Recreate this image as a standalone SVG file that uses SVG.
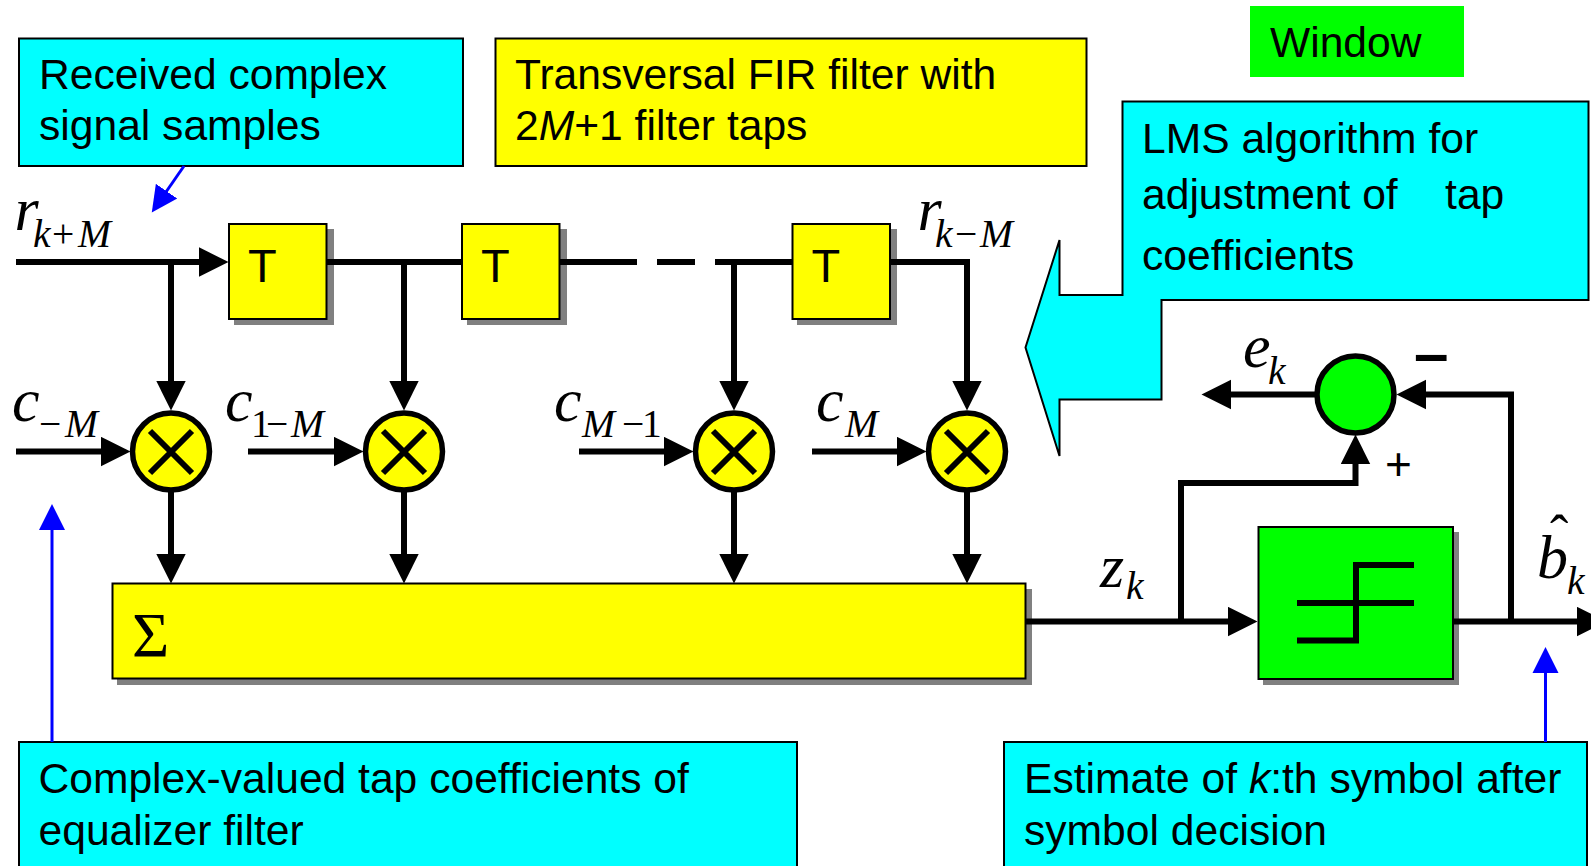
<svg xmlns="http://www.w3.org/2000/svg" width="1591" height="866" viewBox="0 0 1591 866">
<style>
.lbl{font-family:"Liberation Sans",Arial,sans-serif;font-size:42.6px;fill:#000}
.t{font-size:47px}
.m{font-family:"Liberation Serif","Times New Roman",serif;font-style:italic;fill:#000;font-size:62px}
.s{font-size:39.500px}
.u{font-style:normal}
.cy{fill:#00ffff;stroke:#000;stroke-width:2}
.ye{fill:#ff0;stroke:#000;stroke-width:2}
.gr{fill:#0f0;stroke:#000;stroke-width:2}
.sh{fill:#808080}
.mul{fill:#ff0;stroke:#000;stroke-width:5.5}
.x{stroke:#000;stroke-width:6;fill:none}
.c{stroke:#000;stroke-width:6;fill:none;marker-end:url(#ah)}
.p{stroke:#000;stroke-width:6;fill:none}
.bl{stroke:#00f;stroke-width:3;fill:none;marker-end:url(#bh)}
</style>
<defs>
<marker id="ah" markerUnits="userSpaceOnUse" markerWidth="31" markerHeight="31" refX="1" refY="15" orient="auto"><path d="M0 .3L29.5 15L0 29.7Z" fill="#000"/></marker>
<marker id="bh" markerUnits="userSpaceOnUse" markerWidth="28" markerHeight="28" refX="1" refY="14" orient="auto"><path d="M0 1L26 14L0 27Z" fill="#00f"/></marker>
</defs>
<rect width="1591" height="866" fill="#fff"/>
<g id="node-received"><rect class="cy" x="19" y="38.500" width="444" height="127.500"/><text class="lbl" x="39" y="89">Received complex</text><text class="lbl" x="39" y="140">signal samples</text></g>
<g id="node-transversal"><rect class="ye" x="495.500" y="38.500" width="591" height="127.500"/><text class="lbl" x="515" y="89">Transversal FIR filter with</text><text class="lbl" x="515" y="140">2<tspan font-style="italic">M</tspan>+1 filter taps</text></g>
<g id="node-window"><rect fill="#0f0" x="1250" y="6" width="214" height="71"/><text class="lbl" x="1270" y="57">Window</text></g>
<g id="node-lms"><path class="cy" d="M1122.500 101.500H1588.500V300H1161.500V399.500H1059.500V456L1025.500 347.500L1059.500 240V295H1122.500Z"/><text class="lbl" x="1142" y="153">LMS algorithm for</text><text class="lbl" x="1142" y="209" xml:space="preserve">adjustment of    tap</text><text class="lbl" x="1142" y="270">coefficients</text></g>
<g id="node-t1"><rect class="sh" x="234" y="229" width="100" height="96"/><rect class="ye" x="229" y="224" width="97.500" height="95"/><text class="lbl t" x="248" y="282">T</text></g>
<g id="node-t2"><rect class="sh" x="467" y="229" width="100" height="96"/><rect class="ye" x="462" y="224" width="97.500" height="95"/><text class="lbl t" x="481" y="282">T</text></g>
<g id="node-t3"><rect class="sh" x="797" y="229" width="100" height="96"/><rect class="ye" x="792.500" y="224" width="97.500" height="95"/><text class="lbl t" x="811.500" y="282">T</text></g>
<g id="node-mul1"><circle class="mul" cx="171" cy="451.500" r="38.500"/><path class="x" d="M150 431L192 473M192 431L150 473"/></g>
<g id="node-mul2"><circle class="mul" cx="404" cy="451.500" r="38.500"/><path class="x" d="M383 431L425 473M425 431L383 473"/></g>
<g id="node-mul3"><circle class="mul" cx="734" cy="451.500" r="38.500"/><path class="x" d="M713 431L755 473M755 431L713 473"/></g>
<g id="node-mul4"><circle class="mul" cx="967" cy="451.500" r="38.500"/><path class="x" d="M946 431L988 473M988 431L946 473"/></g>
<g id="node-sum"><rect class="sh" x="117" y="589" width="915" height="96"/><rect class="ye" x="112.500" y="583.500" width="913" height="95"/><text x="132" y="657" font-family="'Liberation Serif',serif" font-size="64">Σ</text></g>
<g id="node-decision"><rect class="sh" x="1263" y="532" width="196" height="153"/><rect class="gr" x="1258.500" y="527" width="194.500" height="152"/><path class="x" d="M1297 603H1414M1414 565H1356V640.500H1297"/></g>
<g id="node-err"><circle fill="#0f0" stroke="#000" stroke-width="5.500" cx="1355.500" cy="394.500" r="38.500"/></g>
<g id="node-coef"><rect class="cy" x="19" y="742" width="778" height="135"/><text class="lbl" x="38.500" y="793">Complex-valued tap coefficients of</text><text class="lbl" x="38.500" y="845">equalizer filter</text></g>
<g id="node-est"><rect class="cy" x="1004" y="742" width="583" height="135"/><text class="lbl" x="1024" y="793">Estimate of <tspan font-style="italic">k</tspan>:th symbol after</text><text class="lbl" x="1024" y="845">symbol decision</text></g>
<g id="connectors">
<path class="c" d="M16 262H200"/>
<path class="p" d="M326 262H462M559 262H637M657 262H695M715 262H792"/>
<path class="p" d="M890 262H967V270"/>
<path class="c" d="M171 262V382"/>
<path class="c" d="M404 262V382"/>
<path class="c" d="M734 262V382"/>
<path class="c" d="M967 262V382"/>
<path class="c" d="M16 451.500H102"/>
<path class="c" d="M248 451.500H335"/>
<path class="c" d="M579 451.500H665"/>
<path class="c" d="M812 451.500H898"/>
<path class="c" d="M171 490V555"/>
<path class="c" d="M404 490V555"/>
<path class="c" d="M734 490V555"/>
<path class="c" d="M967 490V555"/>
<path class="c" d="M1025 621.500H1229"/>
<path class="c" d="M1181 621.500V483H1355.500V463"/>
<path class="c" d="M1453 621.500H1578"/>
<path class="c" d="M1511 621.500V394.500H1425"/>
<path class="c" d="M1315 394.500H1230"/>
<path class="bl" d="M184 166L166 192"/>
<path class="bl" d="M52 742V529"/>
<path class="bl" d="M1545.500 742V672"/>
</g>
<g id="labels">
<text class="m" x="14.500" y="230">r<tspan class="s" x="33" y="247">k</tspan><tspan class="s u" x="52">+</tspan><tspan class="s" x="78">M</tspan></text>
<text class="m" x="917.500" y="230">r<tspan class="s" x="935" y="247">k</tspan><tspan class="s u" x="955">−</tspan><tspan class="s" x="980">M</tspan></text>
<text class="m" x="12" y="420.500">c<tspan class="s u" x="39" y="437">−</tspan><tspan class="s" x="65">M</tspan></text>
<text class="m" x="225" y="420.500">c<tspan class="s u" x="251" y="437">1</tspan><tspan class="s u" x="266">−</tspan><tspan class="s" x="291">M</tspan></text>
<text class="m" x="554" y="420.500">c<tspan class="s" x="582" y="437">M</tspan><tspan class="s u" x="622">−</tspan><tspan class="s u" x="642">1</tspan></text>
<text class="m" x="816" y="420.500">c<tspan class="s" x="845" y="437">M</tspan></text>
<text class="m" x="1243" y="367">e<tspan class="s" x="1268" y="384">k</tspan></text>
<text class="m" x="1100" y="587">z<tspan class="s" x="1126" y="599">k</tspan></text>
<text class="m" x="1537" y="578">b<tspan class="s" x="1567" y="594">k</tspan></text>
<text x="1550" y="553" font-family="'Liberation Serif',serif" font-size="55">ˆ</text>
<text x="1414" y="374" font-family="'Liberation Sans',sans-serif" font-weight="bold" font-size="62">–</text>
<text x="1385" y="480" font-family="'Liberation Sans',sans-serif" font-size="46">+</text>
</g>
</svg>
